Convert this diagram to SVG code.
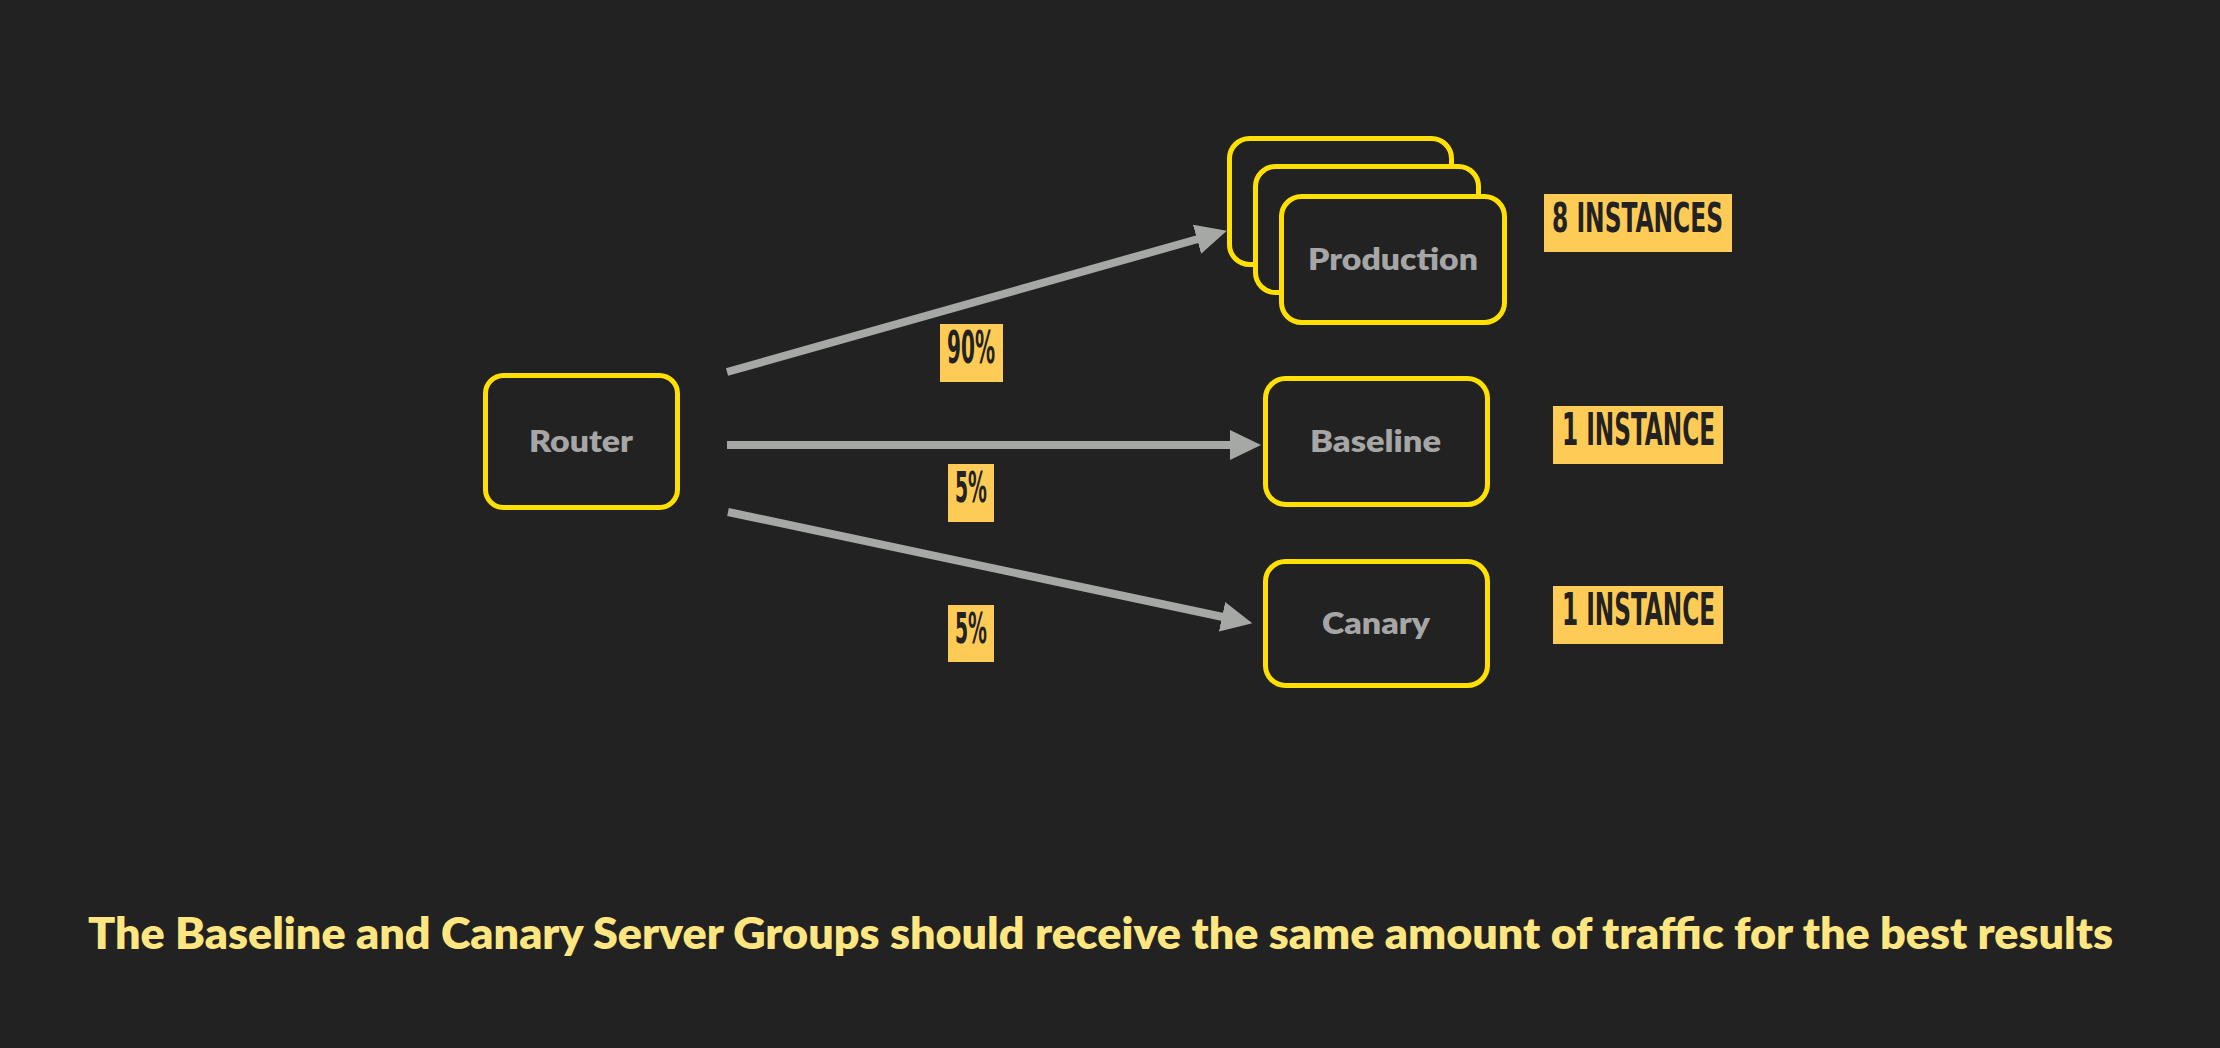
<svg xmlns="http://www.w3.org/2000/svg" width="2220" height="1048" viewBox="0 0 2220 1048">
<style>
.box{fill:#222222;stroke:#FFE000;stroke-width:5}
.node{font-family:Lato,"Open Sans","Liberation Sans",sans-serif;font-weight:800;font-size:31px;fill:#A6A6A6}
.tag{fill:#FFCB57}
.tagt{font-family:"Liberation Sans Narrow","DejaVu Sans Condensed","Liberation Sans",sans-serif;font-weight:700;fill:#222222}
.edge{stroke:#A6A8A6;stroke-width:8;fill:none}
.note{font-family:Lato,"Open Sans","Liberation Sans",sans-serif;font-weight:800;font-size:43px;fill:#FFE681}
</style>
<defs>
<marker id="arr" markerUnits="userSpaceOnUse" viewBox="0 -16 31 32" refX="1" refY="0" markerWidth="31" markerHeight="32" orient="auto">
<path d="M0,-15 L31,0 L0,15 Z" fill="#A6A8A6"/>
</marker>
</defs>
<rect width="2220" height="1048" fill="#222222"/>
<g id="connectors">
<path class="edge" d="M727,372 L1198,239" marker-end="url(#arr)"/>
<path class="edge" d="M727,445 L1231,445" marker-end="url(#arr)"/>
<path class="edge" d="M728,512 L1223,617" marker-end="url(#arr)"/>
</g>
<g id="router">
<rect class="box" x="485.5" y="375.5" width="192" height="132" rx="18"/>
<text class="node" x="529" y="452" textLength="104" lengthAdjust="spacingAndGlyphs">Router</text>
</g>
<g id="production">
<rect class="box" x="1229.5" y="138.5" width="222" height="126" rx="20"/>
<rect class="box" x="1255.5" y="166.5" width="223" height="126" rx="20"/>
<rect class="box" x="1281.5" y="196.5" width="223" height="126" rx="20"/>
<text class="node" x="1308" y="270" textLength="170" lengthAdjust="spacingAndGlyphs">Production</text>
</g>
<g id="baseline">
<rect class="box" x="1265.5" y="378.5" width="222" height="126" rx="20"/>
<text class="node" x="1310" y="452" textLength="131" lengthAdjust="spacingAndGlyphs">Baseline</text>
</g>
<g id="canary">
<rect class="box" x="1265.5" y="561.5" width="222" height="124" rx="20"/>
<text class="node" x="1322" y="634" textLength="108" lengthAdjust="spacingAndGlyphs">Canary</text>
</g>
<g id="label-90">
<rect class="tag" x="940" y="324" width="63" height="58"/>
<text class="tagt" x="947" y="363" font-size="44" textLength="48" lengthAdjust="spacingAndGlyphs">90%</text>
</g>
<g id="label-5a">
<rect class="tag" x="948" y="464" width="46" height="58"/>
<text class="tagt" x="955" y="502" font-size="42" textLength="32" lengthAdjust="spacingAndGlyphs">5%</text>
</g>
<g id="label-5b">
<rect class="tag" x="948" y="605" width="46" height="57"/>
<text class="tagt" x="955" y="643" font-size="42" textLength="32" lengthAdjust="spacingAndGlyphs">5%</text>
</g>
<g id="label-8">
<rect class="tag" x="1544" y="194" width="188" height="58"/>
<text class="tagt" x="1552" y="232" font-size="40" textLength="171" lengthAdjust="spacingAndGlyphs">8 INSTANCES</text>
</g>
<g id="label-1a">
<rect class="tag" x="1553" y="406" width="170" height="58"/>
<text class="tagt" x="1562" y="445" font-size="44" textLength="153" lengthAdjust="spacingAndGlyphs">1 INSTANCE</text>
</g>
<g id="label-1b">
<rect class="tag" x="1553" y="586" width="170" height="58"/>
<text class="tagt" x="1562" y="625" font-size="44" textLength="153" lengthAdjust="spacingAndGlyphs">1 INSTANCE</text>
</g>
<g id="caption">
<text class="note" x="88" y="949" textLength="2025" lengthAdjust="spacingAndGlyphs">The Baseline and Canary Server Groups should receive the same amount of traffic for the best results</text>
</g>
</svg>
